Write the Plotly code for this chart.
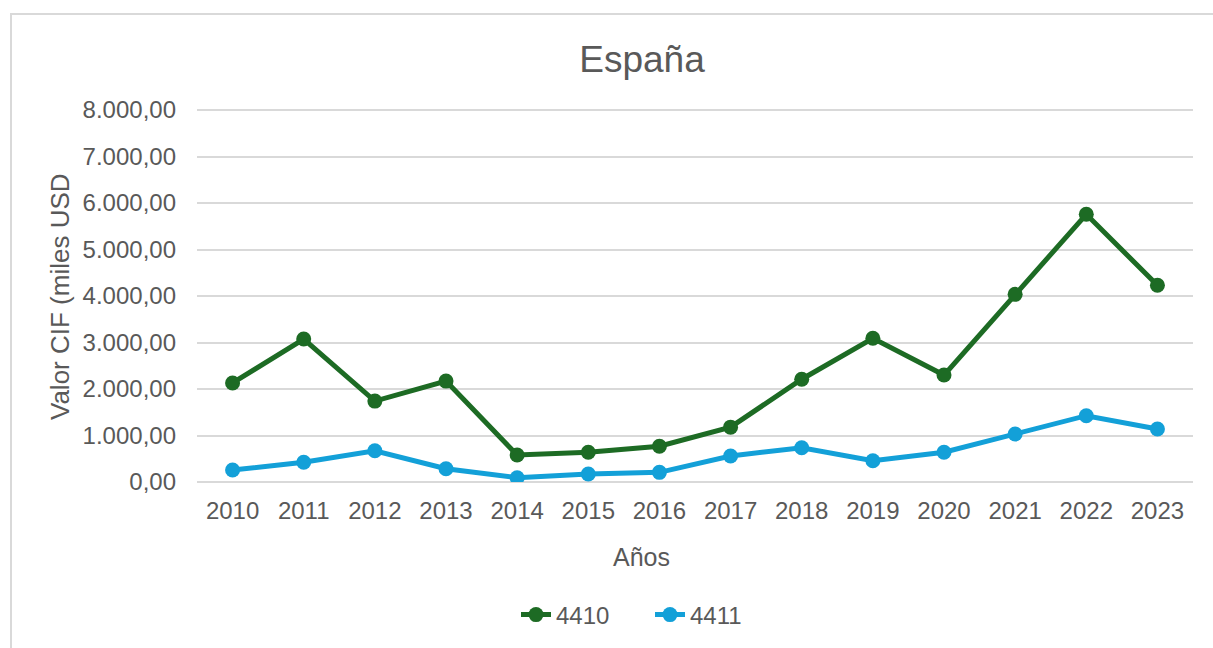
import plotly.graph_objects as go

years = [str(y) for y in range(2010, 2024)]
s4410 = [2130, 3075, 1740, 2170, 580, 640, 770, 1180, 2210, 3090, 2300, 4035, 5757, 4230]
s4411 = [258, 424, 673, 286, 92, 172, 208, 559, 738, 458, 639, 1032, 1426, 1140]
series_names = ["4410", "4411"]
colors = ["#1D6B24", "#13A0D8"]
y_max = 8000

TXT = "#595959"
GRID = "#D9D9D9"
FONT = "Liberation Sans, Arial, sans-serif"

# plot area in pixels
L, R, T, B = 197, 1193, 110, 482
W, H = 1213, 648
def px_x(p):
    return (p - L) / (R - L)
def px_y(p):
    return (B - p) / (B - T)

fig = go.Figure()
for name, vals, col in zip(series_names, [s4410, s4411], colors):
    fig.add_trace(go.Scatter(
        x=years, y=vals, name=name, mode="lines+markers",
        line=dict(color=col, width=5),
        marker=dict(color=col, size=15),
    ))

fig.update_layout(
    width=W, height=H,
    paper_bgcolor="white", plot_bgcolor="white",
    margin=dict(l=L, r=W - R, t=T, b=H - B, autoexpand=False),
    separators=",.",
    font=dict(family=FONT, color=TXT, size=24),
    title=dict(text="España", xref="paper", x=px_x(642), xanchor="center",
               yref="container", y=1 - 59 / H, yanchor="middle",
               font=dict(size=37, color=TXT, family=FONT)),
    showlegend=True,
    legend=dict(orientation="h", x=px_x(516), xanchor="left", y=px_y(615), yanchor="middle",
                font=dict(size=24, color=TXT), entrywidth=89, entrywidthmode="pixels",
                tracegroupgap=0),
    xaxis=dict(
        type="category", range=[-0.5, len(years) - 0.5], showgrid=False, showline=False,
        zeroline=False, ticks="", tickfont=dict(size=24, color=TXT), ticklabelstandoff=12,
        automargin=False,
    ),
    yaxis=dict(
        range=[0, y_max], dtick=1000, tickformat=",.2f",
        showgrid=True, gridcolor=GRID, gridwidth=2,
        zeroline=True, zerolinecolor=GRID, zerolinewidth=2,
        showline=False, ticks="", tickfont=dict(size=24, color=TXT),
        ticklabelstandoff=20, automargin=False,
    ),
    annotations=[
        dict(text="Años", xref="paper", yref="paper", x=px_x(641), y=px_y(557),
             xanchor="center", yanchor="middle", showarrow=False,
             font=dict(size=25, color=TXT)),
        dict(text="Valor CIF (miles USD", xref="paper", yref="paper", x=px_x(60), y=px_y(297),
             xanchor="center", yanchor="middle", textangle=-90, showarrow=False,
             font=dict(size=26, color=TXT)),
    ],
)

# top gridline at the range edge (plotly omits it); paper y=1 is the top of the y range
fig.add_shape(type="line", xref="paper", yref="paper", x0=0, x1=1, y0=1, y1=1,
              line=dict(color=GRID, width=2), layer="below")

# outer chart border (partly cropped in reference)
fig.add_shape(type="rect", xref="paper", yref="paper",
              x0=px_x(11), x1=px_x(1260), y0=px_y(700), y1=px_y(14),
              line=dict(color=GRID, width=2), fillcolor="rgba(0,0,0,0)", layer="below")

fig.write_html("out.html", config={"displayModeBar": False},
               post_script="document.body.style.margin='0px';")
